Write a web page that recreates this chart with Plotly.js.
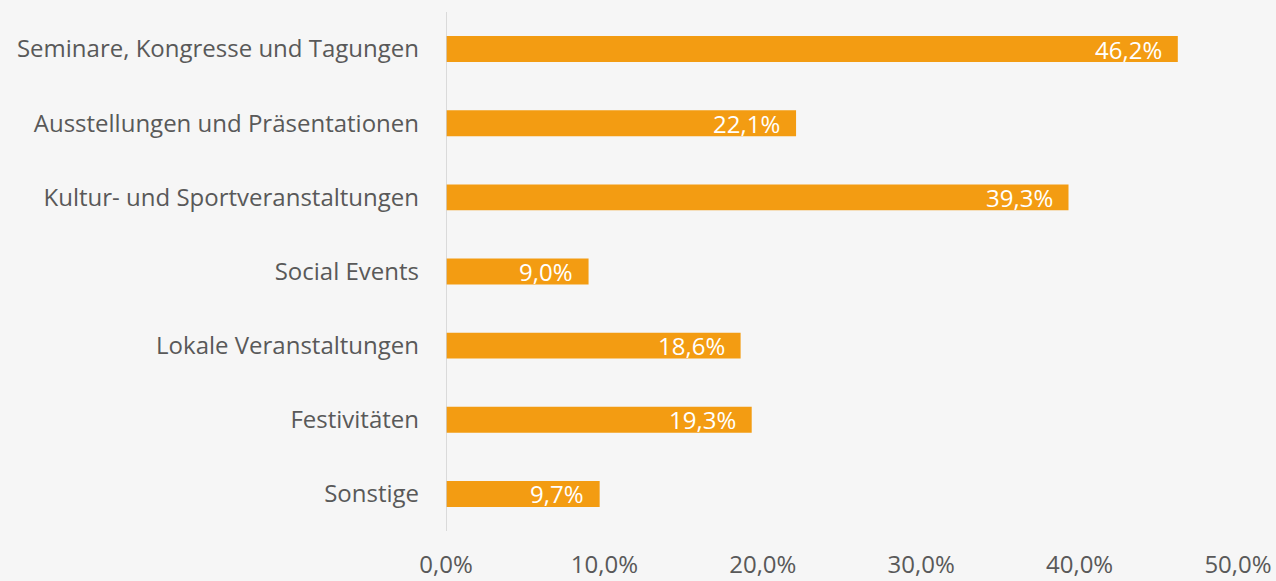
<!DOCTYPE html>
<html>
<head>
<meta charset="utf-8">
<script src="https://cdn.plot.ly/plotly-3.0.1.min.js"></script>
<style>
  html, body { margin: 0; padding: 0; background: #f6f6f6; }
  #chart { width: 1276px; height: 581px; }
</style>
</head>
<body>
<div id="chart"></div>
<script>
// event types and share of respondents (in %)
var categories = [
	"Seminare, Kongresse und Tagungen",
	"Ausstellungen und Präsentationen",
	"Kultur- und Sportveranstaltungen",
	"Social Events",
	"Lokale Veranstaltungen",
	"Festivitäten",
	"Sonstige"
];
var shares = [46.2, 22.1, 39.3, 9.0, 18.6, 19.3, 9.7];
var tickValues = [0, 10, 20, 30, 40, 50];
var tickLabels = ["0,0%", "10,0%", "20,0%", "30,0%", "40,0%", "50,0%"];

function pct(v) {
	return v.toFixed(1).replace('.', ',') + '%';
}

var bars = {
	type: 'bar',
	orientation: 'h',
	y: categories,
	x: shares,
	marker: { color: '#F39C12' },
	hoverinfo: 'none'
};

// value labels sit inside the bar end, a bit away from the edge
var labels = shares.map(function (v, i) {
	return {
		x: v, y: categories[i],
		xref: 'x', yref: 'y',
		text: pct(v),
		showarrow: false,
		xanchor: 'right',
		yanchor: 'middle',
		xshift: -14,
		font: { family: 'Open Sans, sans-serif', size: 24, color: '#ffffff' }
	};
});

var layout = {
	width: 1276,
	height: 581,
	margin: { l: 446, r: 38, t: 12, b: 50 },
	paper_bgcolor: '#f6f6f6',
	plot_bgcolor: 'rgba(0,0,0,0)',
	showlegend: false,
	bargap: 0.65,
	font: { family: 'Open Sans, sans-serif', size: 24, color: '#595959' },
	xaxis: {
		range: [0, 50],
		tickvals: tickValues,
		ticktext: tickLabels,
		showgrid: false,
		zeroline: false,
		showline: false,
		ticks: '',
		ticklabelstandoff: 17,
		tickfont: { size: 24, color: '#595959' }
	},
	yaxis: {
		autorange: 'reversed',
		showgrid: false,
		zeroline: false,
		showline: false,
		ticks: '',
		ticklabelstandoff: 26,
		tickfont: { size: 24, color: '#595959' }
	},
	annotations: labels,
	shapes: [{
		type: 'line',
		xref: 'x', yref: 'paper',
		x0: 0, x1: 0, y0: 0, y1: 1,
		line: { color: '#d0d0d0', width: 1.5 }
	}]
};

Plotly.newPlot('chart', [bars], layout, { displayModeBar: false, staticPlot: true });
</script>
</body>
</html>
